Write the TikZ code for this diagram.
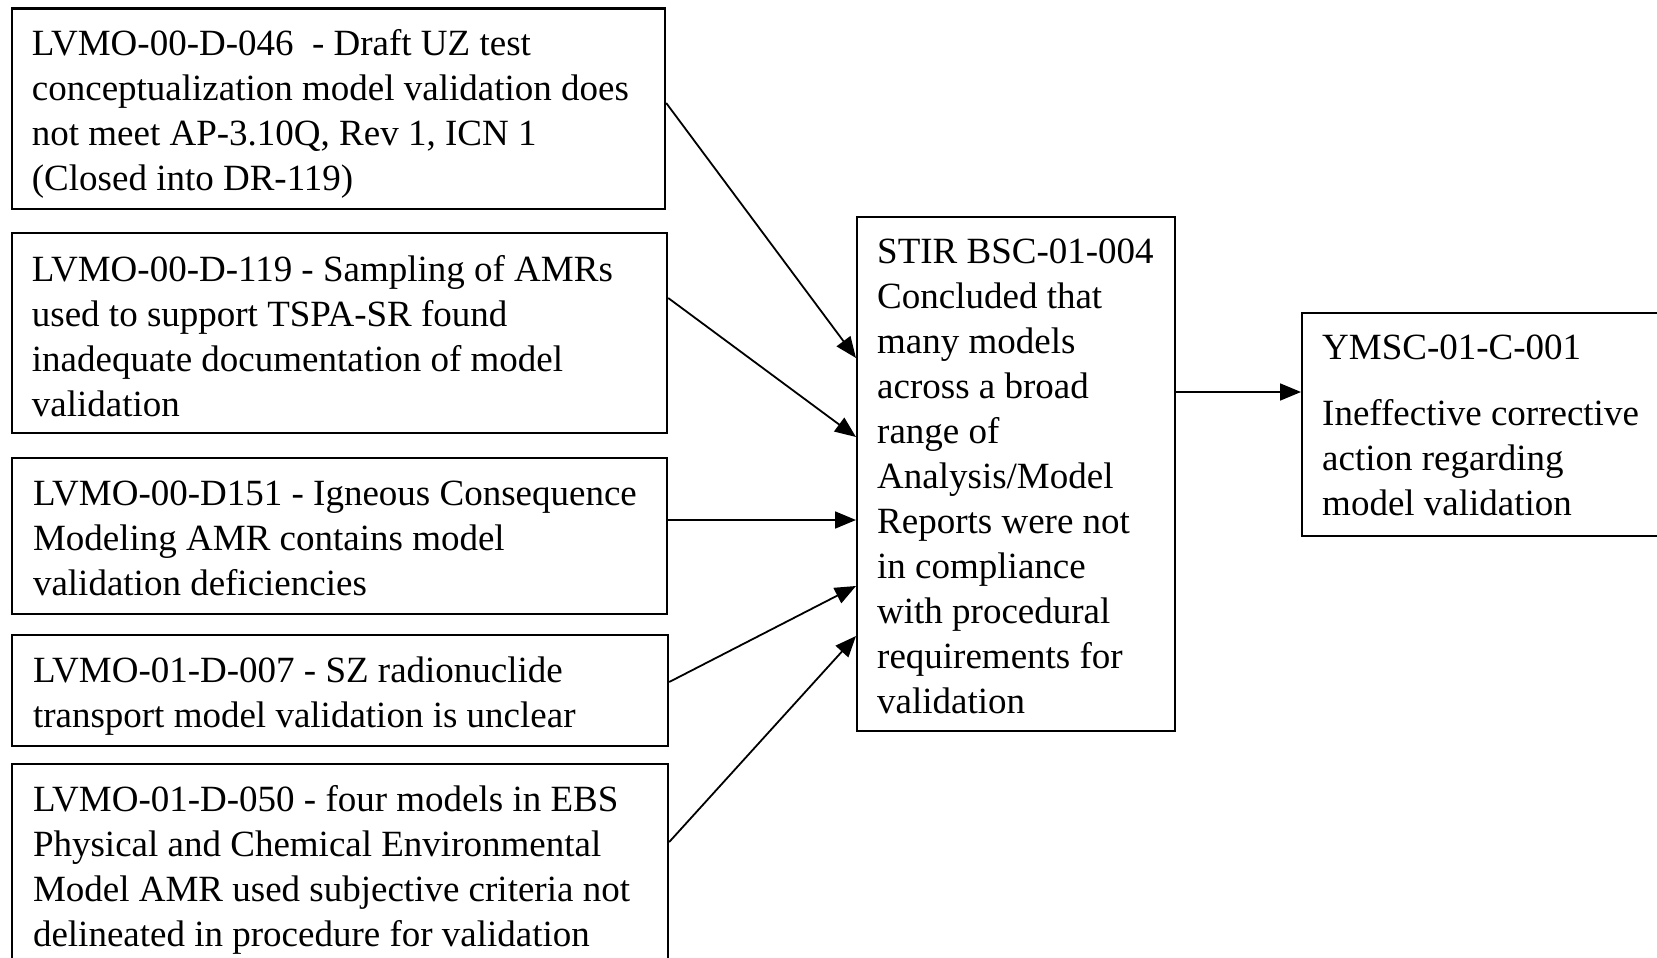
\documentclass[tikz,border=0pt]{standalone}
\usepackage{fontspec}
\setmainfont{Liberation Serif}
\usetikzlibrary{arrows.meta,calc}
\begin{document}
\begin{tikzpicture}[x=1pt,y=-1pt,
  box/.style={draw, line width=2.2pt, anchor=north west, inner sep=0pt},
  txt/.style={anchor=base west, align=left, inner sep=0pt, font=\fontsize{37}{45}\selectfont},
  arr/.style={line width=1.8pt, -{Triangle[length=21pt,width=17pt]}}]
\clip (0,0) rectangle (1657,958);
\useasboundingbox (0,0) rectangle (1657,958);
\fill[white] (0,0) rectangle (1657,958);
% boxes
\node[box, minimum width=653.5pt, minimum height=200.5pt] (b1) at (10.5,7.5) {};
\node[box, minimum width=655.5pt, minimum height=200pt] (b2) at (10.5,232) {};
\node[box, minimum width=655.5pt, minimum height=156pt] (b3) at (10.5,457) {};
\node[box, minimum width=656.5pt, minimum height=111pt] (b4) at (10.5,634) {};
\node[box, minimum width=656.5pt, minimum height=227pt] (b5) at (10.5,763) {};
\node[box, minimum width=318pt, minimum height=514pt] (c) at (856,216) {};
\node[box, minimum width=379pt, minimum height=223pt] (r) at (1301,312) {};
% texts (base anchor = baseline of the last line)
\node[txt] (t1) at (31.7,190) {LVMO-00-D-046\ \ - Draft UZ test\\conceptualization model validation does\\not meet AP-3.10Q, Rev 1, ICN 1\\(Closed into DR-119)};
\node[txt] (t2) at (31.7,416) {LVMO-00-D-119 - Sampling of AMRs\\used to support TSPA-SR found\\inadequate documentation of model\\validation};
\node[txt] (t3) at (32.8,595) {LVMO-00-D151 - Igneous Consequence\\Modeling AMR contains model\\validation deficiencies};
\node[txt] (t4) at (32.8,727) {LVMO-01-D-007 - SZ radionuclide\\transport model validation is unclear};
\node[txt] (t5) at (32.8,946) {LVMO-01-D-050 - four models in EBS\\Physical and Chemical Environmental\\Model AMR used subjective criteria not\\delineated in procedure for validation};
\node[txt] (tc) at (877,713) {STIR BSC-01-004\\Concluded that\\many models\\across a broad\\range of\\Analysis/Model\\Reports were not\\in compliance\\with procedural\\requirements for\\validation};
\node[txt] (tr) at (1322,515) {YMSC-01-C-001\\[21pt]Ineffective corrective\\action regarding\\model validation};
% connectors
\draw[arr] (b1.east |- 0,103) -- (c.west |- 0,358);
\draw[arr] (b2.east |- 0,298) -- (c.west |- 0,437);
\draw[arr] (b3.east |- 0,520) -- (c.west |- 0,520);
\draw[arr] (b4.east |- 0,682) -- (c.west |- 0,586);
\draw[arr] (b5.east |- 0,842) -- (c.west |- 0,636);
\draw[arr] (c.east |- 0,392) -- (r.west |- 0,392);
\end{tikzpicture}
\end{document}
